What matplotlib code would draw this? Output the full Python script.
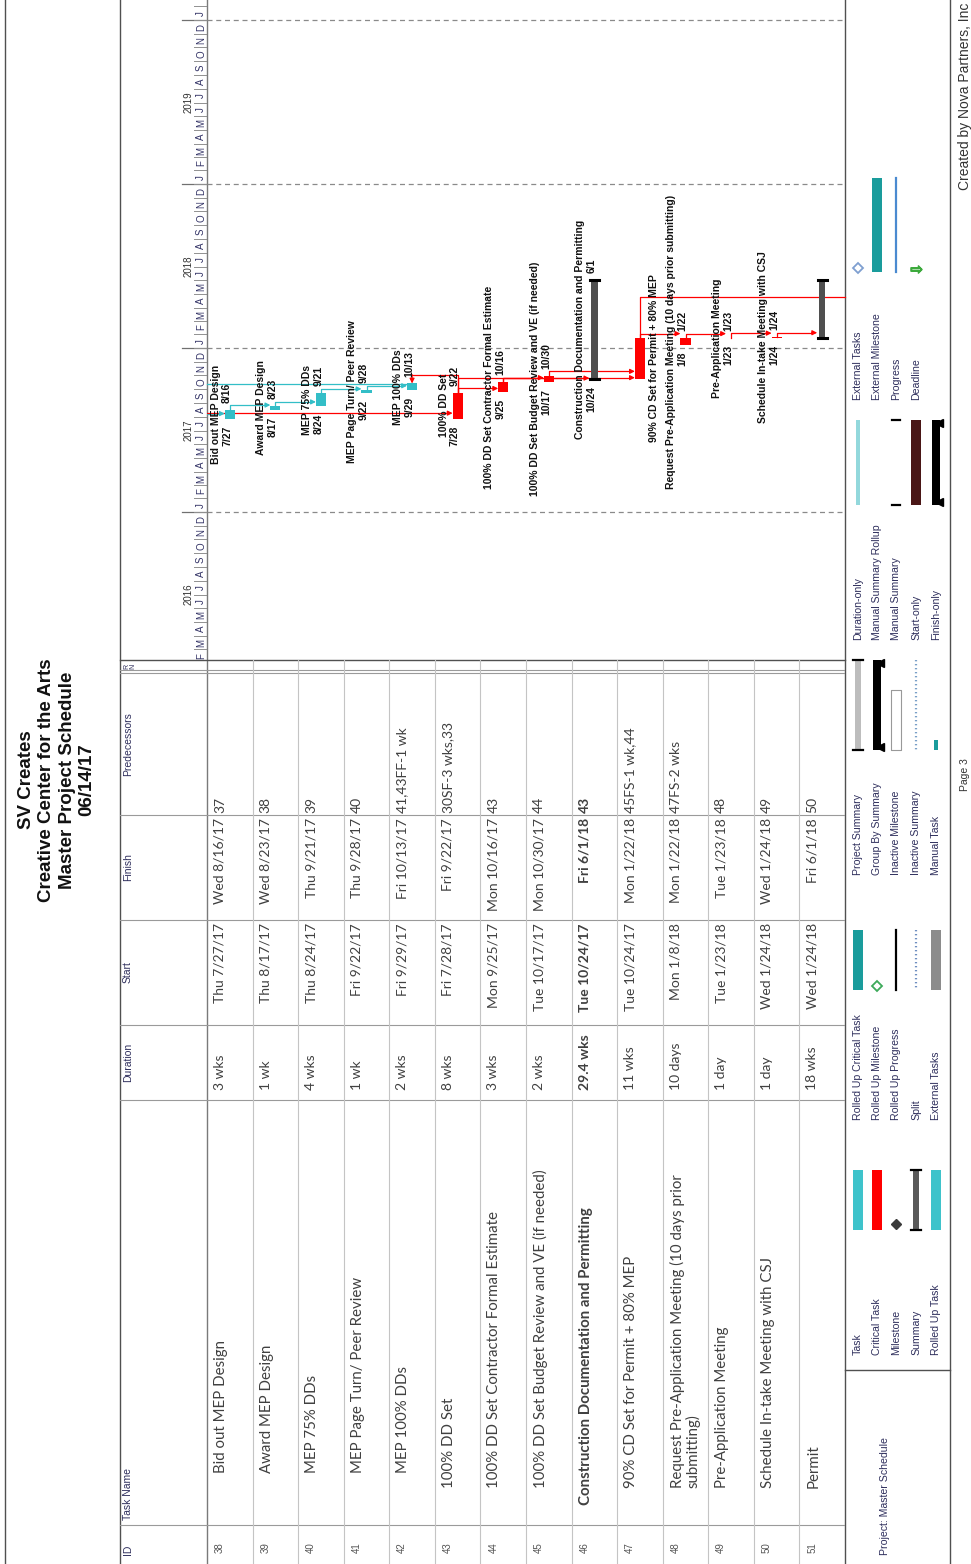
import datetime as dt
import matplotlib.pyplot as plt
import matplotlib.dates as mdates

W, H = 971, 1564

# ---- schedule data (page 3 of the master schedule) ----
task_ids = [38, 39, 40, 41, 42, 43, 44, 45, 46, 47, 48, 49, 50, 51]
task_names = [
    'Bid out MEP Design',
    'Award MEP Design',
    'MEP 75% DDs',
    'MEP Page Turn/ Peer Review',
    'MEP 100% DDs',
    '100% DD Set',
    '100% DD Set Contractor Formal Estimate',
    '100% DD Set Budget Review and VE (if needed)',
    'Construction Documentation and Permitting',
    '90% CD Set for Permit + 80% MEP',
    'Request Pre-Application Meeting (10 days prior\nsubmitting)',
    'Pre-Application Meeting',
    'Schedule In-take Meeting with CSJ',
    'Permit',
]
durations = ['3 wks', '1 wk', '4 wks', '1 wk', '2 wks', '8 wks', '3 wks', '2 wks',
             '29.4 wks', '11 wks', '10 days', '1 day', '1 day', '18 wks']
start_dates = ['2017-07-27', '2017-08-17', '2017-08-24', '2017-09-22', '2017-09-29',
               '2017-07-28', '2017-09-25', '2017-10-17', '2017-10-24', '2017-10-24',
               '2018-01-08', '2018-01-23', '2018-01-24', '2018-01-24']
finish_dates = ['2017-08-16', '2017-08-23', '2017-09-21', '2017-09-28', '2017-10-13',
                '2017-09-22', '2017-10-16', '2017-10-30', '2018-06-01', '2018-01-22',
                '2018-01-22', '2018-01-23', '2018-01-24', '2018-06-01']
start_text = ['Thu 7/27/17', 'Thu 8/17/17', 'Thu 8/24/17', 'Fri 9/22/17', 'Fri 9/29/17',
              'Fri 7/28/17', 'Mon 9/25/17', 'Tue 10/17/17', 'Tue 10/24/17', 'Tue 10/24/17',
              'Mon 1/8/18', 'Tue 1/23/18', 'Wed 1/24/18', 'Wed 1/24/18']
finish_text = ['Wed 8/16/17', 'Wed 8/23/17', 'Thu 9/21/17', 'Thu 9/28/17', 'Fri 10/13/17',
               'Fri 9/22/17', 'Mon 10/16/17', 'Mon 10/30/17', 'Fri 6/1/18', 'Mon 1/22/18',
               'Mon 1/22/18', 'Tue 1/23/18', 'Wed 1/24/18', 'Fri 6/1/18']
predecessors = ['37', '38', '39', '40', '41,43FF-1 wk', '30SF-3 wks,33', '43', '44', '43',
                '45FS-1 wk,44', '47FS-2 wks', '48', '49', '50']
outline_level = [2, 2, 2, 2, 2, 1, 1, 1, 0, 1, 1, 1, 1, 1]
bar_kind = ['task'] * 5 + ['critical'] * 3 + ['summary'] + ['critical'] * 4 + ['summary']
label_mode = ['both'] * 9 + ['name_after'] + ['both'] * 3 + ['none']

links = [(38, 39, 'FS'), (39, 40, 'FS'), (40, 41, 'FS'), (41, 42, 'FS'), (43, 42, 'FF'),
         (43, 44, 'FS'), (44, 45, 'FS'), (43, 46, 'FS'), (44, 47, 'FS'), (45, 47, 'FS'),
         (47, 48, 'FS'), (48, 49, 'FS'), (49, 50, 'FS'), (50, 51, 'FS')]
links_from_prev_page = [38, 43]
links_off_page = [(42, 'left', '2017-10-13'), (47, 'right', '2018-04-24')]

years = [2016, 2017, 2018, 2019]
month_letters = 'JFMAMJJASOND'

legend_labels = [
    ['Task', 'Critical Task', 'Milestone', 'Summary', 'Rolled Up Task'],
    ['Rolled Up Critical Task', 'Rolled Up Milestone', 'Rolled Up Progress', 'Split', 'External Tasks'],
    ['Project Summary', 'Group By Summary', 'Inactive Milestone', 'Inactive Summary', 'Manual Task'],
    ['Duration-only', 'Manual Summary Rollup', 'Manual Summary', 'Start-only', 'Finish-only'],
    ['External Tasks', 'External Milestone', 'Progress', 'Deadline', ''],
]
legend_symbols = [
    [('bar', '#3EC3CB'), ('bar', '#FF0000'), ('diamond', '#3A3A3A'), ('split', '#595959'), ('bar', '#3EC3CB')],
    [('bar', '#1A9C9C'), ('odiamond', '#3DAA5A'), ('line', '#000000'), ('dots', '#6F8FC0'), ('bar', '#8C8C8C')],
    [('psum', '#BDBDBD'), ('group', '#000000'), ('box', '#999999'), ('dots', '#7AA0C8'), ('tick', '#1A9C9C')],
    [('thin', '#93D8DC'), (None, None), ('caps', '#000000'), ('bar', '#4A1616'), ('group', '#000000')],
    [('odiamond', '#7F9FD0'), ('bar', '#1A9C9C'), ('line', '#4A8AD0'), ('arrow', '#3DAA3D'), (None, None)],
]

CYAN = '#33BEC7'
RED = '#FF0000'
GRID = '#C4C4C4'
DARK = '#404040'
HDR = '#2E2E5C'
NARROW = ['Liberation Sans Narrow', 'Liberation Sans', 'DejaVu Sans']
TFONT = ['Lato', 'DejaVu Sans']

X_HEAD, X_BODY, X_END, X_LEG = 120, 207, 845, 950
Y_GANTT = 660
ROW_PX = (X_END - X_BODY) / len(task_ids)

fig = plt.figure(figsize=(W / 100, H / 100), dpi=100)


def px_axes(x0, y0, x1, y1):
    ax = fig.add_axes([x0 / W, 1 - y1 / H, (x1 - x0) / W, (y1 - y0) / H])
    ax.set_axis_off()
    return ax


def num(s):
    return mdates.date2num(dt.date.fromisoformat(s))


# page frame, title, legend, footer in pixel coordinates
page = px_axes(0, 0, W, H)
page.set_xlim(0, W)
page.set_ylim(H, 0)
for x in (5, X_HEAD, X_END, X_LEG):
    page.plot([x, x], [0, H], color='#505050', lw=1.0)
page.plot([X_BODY, X_BODY], [0, H], color='#7A7A7A', lw=1.0)
page.plot([X_HEAD, X_END], [Y_GANTT, Y_GANTT], color='#505050', lw=1.0)
page.plot([X_END, X_LEG], [1370, 1370], color='#505050', lw=1.0)

title_lines = ['SV Creates', 'Creative Center for the Arts', 'Master Project Schedule', '06/14/17']
for k, t in enumerate(title_lines):
    page.text(27 + 20 * k, 780, t, rotation=90, ha='center', va='center', fontsize=13.5,
              fontweight='bold', family=['Liberation Sans', 'DejaVu Sans'], color='#111111')

leg_rows = [858, 877, 896, 916, 936]
leg_label_y = [1355, 1120, 875, 640, 400]
leg_sym_span = [(1170, 1230), (930, 990), (660, 750), (420, 505), (178, 272)]
for c in range(5):
    y0, y1 = leg_sym_span[c]
    for r in range(5):
        x = leg_rows[r]
        lab = legend_labels[c][r]
        if lab:
            page.text(x, leg_label_y[c], lab, rotation=90, ha='center', va='bottom', fontsize=7.6,
                      family=NARROW, color=HDR)
        kind, col = legend_symbols[c][r]
        if kind == 'bar':
            page.fill_between([x - 5, x + 5], y0, y1, color=col, lw=0)
        elif kind == 'thin':
            page.fill_between([x - 2, x + 2], y0, y1, color=col, lw=0)
        elif kind == 'line':
            page.plot([x, x], [y0, y1], color=col, lw=1.6)
        elif kind == 'dots':
            page.plot([x, x], [y0, y1], color=col, lw=1.6, ls=(0, (0.6, 1.2)))
        elif kind == 'diamond':
            page.plot(x, y1 - 6, marker='D', ms=5, color=col)
        elif kind == 'odiamond':
            page.plot(x, y1 - 4, marker='D', ms=5, mfc='white', mec=col, mew=1.3)
        elif kind in ('split', 'psum'):
            page.fill_between([x - 3, x + 3], y0, y1, color=col, lw=0)
            page.plot([x - 5, x + 5], [y0, y0], color='black', lw=1.6)
            page.plot([x - 5, x + 5], [y1, y1], color='black', lw=1.6)
        elif kind == 'group':
            page.fill_between([x - 4, x + 4], y0, y1, color=col, lw=0)
            page.plot(x + 3, y0 + 3, marker='<', ms=6, color=col)
            page.plot(x + 3, y1 - 3, marker='<', ms=6, color=col)
        elif kind == 'caps':
            page.plot([x - 4, x + 4], [y0, y0], color=col, lw=1.6)
            page.plot([x - 4, x + 4], [y1, y1], color=col, lw=1.6)
        elif kind == 'box':
            page.fill_between([x - 5, x + 5], y0 + 30, y1, facecolor='white', edgecolor=col, lw=0.8)
        elif kind == 'tick':
            page.fill_between([x - 2, x + 2], y1 - 10, y1, color=col, lw=0)
        elif kind == 'arrow':
            page.plot(x, y1 - 3, marker='$\u21e8$', ms=8, color=col)

page.text(885, 1555, 'Project: Master Schedule', rotation=90, ha='center', va='bottom',
          fontsize=7.6, family=NARROW, color=HDR)
page.text(965, 775, 'Page 3', rotation=90, ha='center', va='center', fontsize=7.5,
          family=NARROW, color='#333333')
page.text(965, 190, 'Created by Nova Partners, Inc', rotation=90, ha='center', va='bottom',
          fontsize=10, family=NARROW, color='#333333', clip_on=True)

# ---- table ----
tab = px_axes(X_HEAD, Y_GANTT, X_END, H)
x_lo = 37.5 - (X_BODY - X_HEAD) / ROW_PX
tab.set_xlim(x_lo, 51.5)
tab.set_ylim(H, Y_GANTT)
col_edges = [1525, 1100, 1025, 920, 815, 673, 670]
for y in col_edges:
    tab.plot([x_lo, 51.5], [y, y], color='#9A9A9A', lw=0.8)
for r in task_ids[:-1]:
    tab.plot([r + 0.5, r + 0.5], [Y_GANTT, H], color=GRID, lw=0.8)

hx = x_lo + 3 / ROW_PX
hkw = dict(rotation=90, ha='left', fontsize=7.5, family=NARROW, color=HDR)
tab.text(hx, 1555, 'ID', va='bottom', **hkw)
tab.text(hx, 1520, 'Task Name', va='bottom', **hkw)
for lab, yc in [('Duration', 1062), ('Start', 972), ('Finish', 867), ('Predecessors', 744)]:
    tab.text(hx, yc, lab, va='center', **hkw)
tab.text(hx, 666, 'R\nN', rotation=90, ha='left', va='center', fontsize=5, family=NARROW,
         color=HDR, linespacing=0.9)

indent_y = [1505, 1488, 1473]
for i, r in enumerate(task_ids):
    x = r - 0.5 + 7 / ROW_PX
    wt = 'bold' if r == 46 else 'normal'
    kw = dict(rotation=90, ha='left', fontsize=10, family=TFONT, color=DARK, fontweight=wt)
    tab.text(r - 0.5 + 8 / ROW_PX, 1553, str(r), rotation=90, ha='left', va='bottom',
             fontsize=7, family=NARROW, color='#555555')
    tab.text(x, indent_y[outline_level[i]], task_names[i], va='bottom', multialignment='left',
             linespacing=1.05, **dict(kw, fontsize=10.8))
    tab.text(x, 1090, durations[i], va='bottom', **kw)
    tab.text(x, 923, start_text[i], va='top', **kw)
    tab.text(x, 818, finish_text[i], va='top', **kw)
    tab.text(x, 813, predecessors[i], va='bottom', **kw)

# ---- gantt ----
base = num('2017-01-01')
g = px_axes(X_BODY, 0, X_END, Y_GANTT)
y_lo, y_hi = base - 329.4, base + 1139.5
g.set_xlim(37.5, 51.5)
g.set_ylim(y_lo, y_hi)
for yr in years + [2020]:
    if yr > 2016:
        g.axhline(num(f'{yr}-01-01'), color='#8A8A8A', lw=0.9, ls=(0, (4, 3)))

HW = 0.11
D = 10
pos = {r: i for i, r in enumerate(task_ids)}


def span(r):
    i = pos[r]
    return num(start_dates[i]), num(finish_dates[i]) + 1


def arrow(x0, y0, x1, y1, color):
    g.annotate('', xy=(x1, y1), xytext=(x0, y0),
               arrowprops=dict(arrowstyle='-|>', color=color, lw=0.9, mutation_scale=7,
                               shrinkA=0, shrinkB=0))


def link_color(r):
    return CYAN if bar_kind[pos[r]] == 'task' else RED


for p, s, kind in links:
    ps, pf = span(p)
    ss, sf = span(s)
    col = link_color(p)
    if kind == 'FS':
        y = max(pf + D, ss + 2)
        g.plot([p, p, s - HW - 0.12], [pf, y, y], color=col, lw=0.9)
        arrow(s - HW - 0.12, y, s - HW, y, col)
    else:
        y = sf + D * 2
        g.plot([p, p, s], [pf, y, y], color=col, lw=0.9)
        arrow(s, y, s, sf, col)

for r in links_from_prev_page:
    s0, f0 = span(r)
    col = link_color(r)
    g.plot([37.5, r - HW - 0.12], [s0 + 12, s0 + 12], color=col, lw=0.9)
    arrow(r - HW - 0.12, s0 + 12, r - HW, s0 + 12, col)

for r, side, d in links_off_page:
    s0, f0 = span(r)
    col = link_color(r)
    yv = num(d)
    xe = 37.5 if side == 'left' else 51.5
    g.plot([r, r, xe], [f0, yv, yv], color=col, lw=0.9, clip_on=False)

for i, r in enumerate(task_ids):
    s0, f0 = span(r)
    if bar_kind[i] == 'summary':
        g.bar(r, f0 - s0, bottom=s0, width=0.14, color='#4F4F4F', zorder=3)
        g.plot([r - 0.1, r + 0.1], [s0, s0], color='black', lw=2.2, zorder=4)
        g.plot([r - 0.1, r + 0.1], [f0, f0], color='black', lw=2.2, zorder=4)
    else:
        col = CYAN if bar_kind[i] == 'task' else RED
        g.bar(r, f0 - s0, bottom=s0, width=2 * HW, color=col, zorder=3)
    mode = label_mode[i]
    lab_kw = dict(rotation=90, ha='center', fontsize=7.5, fontweight='bold', family=NARROW,
                  color='#111111', zorder=5)
    name = task_names[i].replace('\n', ' ')
    if mode == 'both':
        g.text(r - 0.31, (s0 + f0) / 2, name, va='center', **lab_kw)
        sd = dt.date.fromisoformat(start_dates[i])
        fd = dt.date.fromisoformat(finish_dates[i])
        g.annotate(f'{sd.month}/{sd.day}', (r - 0.06, s0), xytext=(0, -5),
                   textcoords='offset points', va='top', **lab_kw)
        g.annotate(f'{fd.month}/{fd.day}', (r - 0.06, f0), xytext=(0, 5),
                   textcoords='offset points', va='bottom', **lab_kw)
    elif mode == 'name_after':
        g.text(r + 0.3, (s0 + f0) / 2, name, va='center', **lab_kw)

# ---- timescale ----
ts = px_axes(X_HEAD, 0, X_BODY, Y_GANTT)
ts.set_xlim(X_HEAD, X_BODY)
ts.set_ylim(y_lo, y_hi)
for yr in years + [2020]:
    y0 = num(f'{yr}-01-01')
    ts.plot([182, X_BODY], [y0, y0], color='#707070', lw=0.9)
    if yr in years:
        ts.text(189, num(f'{yr}-07-01'), str(yr), rotation=90, ha='center', va='center',
                fontsize=7, family=NARROW, color='#333333')
for yr in [2016, 2017, 2018, 2019, 2020]:
    for m in range(1, 13):
        d0 = num(f'{yr}-{m:02d}-01')
        if d0 < y_lo - 31 or d0 > y_hi:
            continue
        ts.plot([194, X_BODY], [d0, d0], color='#909090', lw=0.7, clip_on=True)
        if y_lo + 5 < d0 + 15 < y_hi - 5:
            ts.text(201, d0 + 15, month_letters[m - 1], rotation=90, ha='center', va='center',
                    fontsize=7, family=NARROW, color='#333366')

fig.savefig('out.png', dpi=100)
